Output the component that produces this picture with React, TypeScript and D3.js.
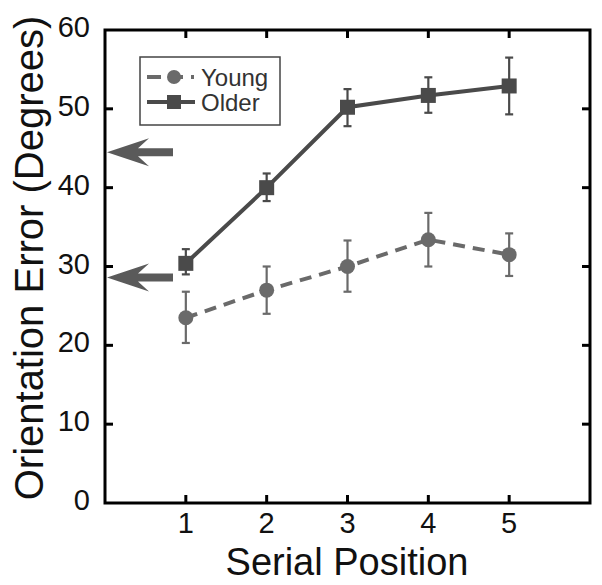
import React from "react";
import * as d3 from "d3";

const positions = [1, 2, 3, 4, 5];
const youngMean = [23.5, 27.0, 30.0, 33.4, 31.5];
const youngLow = [20.3, 24.0, 26.8, 30.0, 28.8];
const youngHigh = [26.8, 30.0, 33.3, 36.8, 34.2];
const olderMean = [30.4, 40.0, 50.2, 51.7, 52.9];
const olderLow = [29.0, 38.3, 47.8, 49.5, 49.3];
const olderHigh = [32.2, 41.8, 52.5, 54.0, 56.5];
const yTicks = [0, 10, 20, 30, 40, 50, 60];
const xTicks = [1, 2, 3, 4, 5];
const arrowValues = [44.5, 28.6];

const W = 602;
const H = 585;
const L = 105, R = 590, T = 30, B = 503;
const FONT = "Liberation Sans, Arial, Helvetica, sans-serif";

export default function App() {
  const x = d3.scaleLinear().domain([0, 6]).range([L, R]);
  const y = d3.scaleLinear().domain([0, 60]).range([B, T]);
  const line = d3.line<number>().x((_, i) => x(positions[i])).y((d) => y(d));

  const youngColor = "#6a6a6a";
  const olderColor = "#4a4a4a";
  const axisColor = "#000";
  const tick = 8;

  const errBars = (lo: number[], hi: number[], color: string) =>
    positions.map((p, i) => (
      <g key={i} stroke={color} strokeWidth={2.2}>
        <line x1={x(p)} x2={x(p)} y1={y(lo[i])} y2={y(hi[i])} />
        <line x1={x(p) - 4} x2={x(p) + 4} y1={y(lo[i])} y2={y(lo[i])} />
        <line x1={x(p) - 4} x2={x(p) + 4} y1={y(hi[i])} y2={y(hi[i])} />
      </g>
    ));

  return (
    <svg width={W} height={H} style={{ position: "absolute", left: 0, top: 0, background: "#fff" }}>
      <rect x={0} y={0} width={W} height={H} fill="#fff" />
      {/* y ticks & labels */}
      {yTicks.map((t) => (
        <g key={"y" + t}>
          {t > 0 && t < 60 && (
            <>
              <line x1={L} x2={L + tick} y1={y(t)} y2={y(t)} stroke={axisColor} strokeWidth={3} />
              <line x1={R} x2={R - tick} y1={y(t)} y2={y(t)} stroke={axisColor} strokeWidth={3} />
            </>
          )}
          <text x={90} y={y(t) + 7} textAnchor="end" fontFamily={FONT} fontSize={29} fill="#111">
            {t}
          </text>
        </g>
      ))}
      {/* x ticks & labels */}
      {xTicks.map((t) => (
        <g key={"x" + t}>
          <line x1={x(t)} x2={x(t)} y1={B} y2={B - tick} stroke={axisColor} strokeWidth={3} />
          <line x1={x(t)} x2={x(t)} y1={T} y2={T + tick} stroke={axisColor} strokeWidth={3} />
          <text x={x(t)} y={533} textAnchor="middle" fontFamily={FONT} fontSize={29} fill="#111">
            {t}
          </text>
        </g>
      ))}
      {/* frame */}
      <rect x={L} y={T} width={R - L} height={B - T} fill="none" stroke={axisColor} strokeWidth={3} />

      {/* axis titles */}
      <text x={347} y={575} textAnchor="middle" fontFamily={FONT} fontSize={38} fill="#111">
        Serial Position
      </text>
      <text
        transform={`translate(43, 258) rotate(-90)`}
        textAnchor="middle"
        fontFamily={FONT}
        fontSize={40}
        fill="#111"
      >
        Orientation Error (Degrees)
      </text>

      {/* arrows */}
      {arrowValues.map((v, i) => {
        const cy = y(v);
        const tip = L + 2;
        return (
          <path
            key={"a" + i}
            d={`M${tip},${cy} L${tip + 42},${cy - 14} L${tip + 31},${cy - 4} L${173},${cy - 4} L${173},${cy + 4} L${tip + 31},${cy + 4} L${tip + 42},${cy + 14} Z`}
            fill="#5a5a5a"
          />
        );
      })}

      {/* young */}
      <path d={line(youngMean) || ""} fill="none" stroke={youngColor} strokeWidth={4} strokeDasharray="12 8" />
      {errBars(youngLow, youngHigh, youngColor)}
      {positions.map((p, i) => (
        <circle key={"yc" + i} cx={x(p)} cy={y(youngMean[i])} r={7.5} fill={youngColor} />
      ))}

      {/* older */}
      <path d={line(olderMean) || ""} fill="none" stroke={olderColor} strokeWidth={4} />
      {errBars(olderLow, olderHigh, olderColor)}
      {positions.map((p, i) => (
        <rect key={"or" + i} x={x(p) - 7.5} y={y(olderMean[i]) - 7.5} width={15} height={15} fill={olderColor} />
      ))}

      {/* legend */}
      <rect x={140} y={57} width={140} height={68} fill="#fff" stroke="#444" strokeWidth={1.5} />
      <line x1={147} x2={194} y1={77} y2={77} stroke={youngColor} strokeWidth={4} strokeDasharray="14 8" />
      <circle cx={174} cy={77} r={7} fill={youngColor} />
      <text x={201} y={86} fontFamily={FONT} fontSize={24} fill="#333">Young</text>
      <line x1={147} x2={195} y1={102} y2={102} stroke={olderColor} strokeWidth={4} />
      <rect x={167} y={95} width={14} height={14} fill={olderColor} />
      <text x={201} y={111} fontFamily={FONT} fontSize={24} fill="#333">Older</text>
    </svg>
  );
}
